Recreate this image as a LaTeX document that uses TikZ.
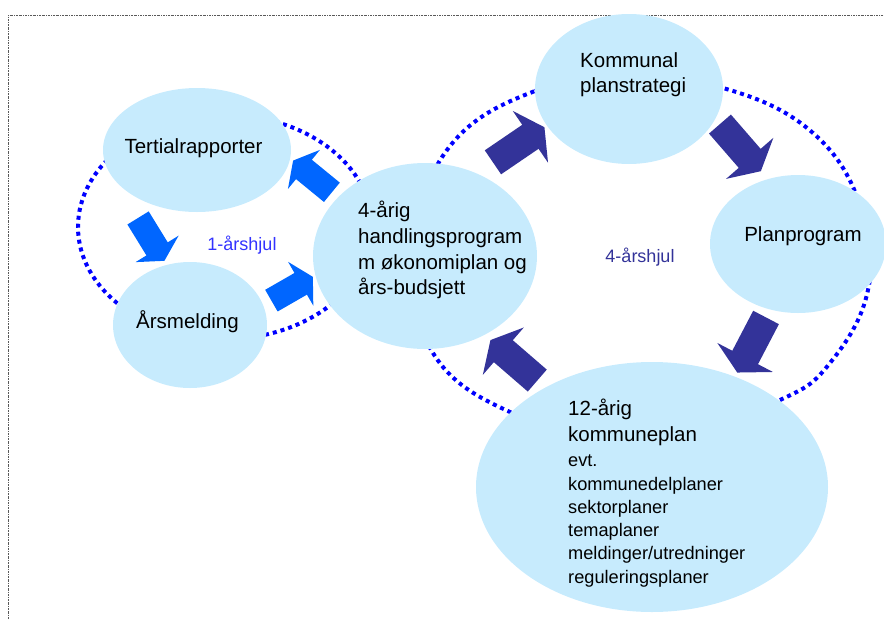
\documentclass[tikz,border=0pt]{standalone}
\usepackage{fontspec}
\setmainfont{Liberation Sans}
\usetikzlibrary{arrows.meta,shapes.geometric}
\definecolor{bubble}{HTML}{C7EBFD}
\definecolor{lightarrow}{HTML}{0066FF}
\definecolor{darkarrow}{HTML}{333399}
\definecolor{dotblue}{HTML}{0000FF}
\definecolor{hjultext}{HTML}{3333FF}
\begin{document}
\begin{tikzpicture}[x=1pt, y=-1pt,
    bub/.style={ellipse, fill=bubble, inner sep=0pt, outer sep=0pt},
    txt/.style={inner sep=0pt, align=left, font=\fontsize{20.5}{25.7}\selectfont},
    hjul/.style={draw=dotblue, line width=4pt, dash pattern=on 4pt off 4pt},
    hjultxt/.style={inner sep=0pt, anchor=base, font=\fontsize{18}{22}\selectfont},
    frame/.style={draw=black!65, line width=0.7pt, dash pattern=on 2pt off 1pt on 0.6pt off 1pt},
    lightarr/.style={draw=lightarrow, line width=25pt, -{Triangle[width=50pt, length=14pt]}},
    darkarr/.style={draw=darkarrow, line width=29pt, -{Triangle[width=62pt, length=17pt]}}
]
\useasboundingbox (0,0) rectangle (884,619);
\draw[frame] (8,619) -- (8,15) -- (884,15);

\draw[hjul] (225,227) ellipse [x radius=147, y radius=112];
\draw[hjul] plot[smooth cycle, tension=0.7] coordinates {(447,150) (535,91) (629,80)
    (723,88) (813,133) (862,210) (868,290) (830,363) (780,400)
    (690,428) (600,430) (510,412) (433,353) (414,255)};

\node[bub, minimum width=188pt, minimum height=124pt] (tert) at (197,150) {};
\node[bub, minimum width=154pt, minimum height=126pt] (ars) at (190,325) {};
\node[bub, minimum width=224pt, minimum height=186pt] (hand) at (425,256) {};
\node[bub, minimum width=188pt, minimum height=150pt] (komm) at (629,89) {};
\node[bub, minimum width=176pt, minimum height=138pt] (plan) at (798,244) {};
\node[bub, minimum width=352pt, minimum height=250pt] (kplan) at (652,487) {};

\draw[lightarr, shorten <=8pt, shorten >=3.8pt] (hand.146) -- (tert.-5);
\draw[lightarr, shorten <=44.6pt, shorten >=4.8pt] (tert.200) -- (ars.111);
\draw[lightarr, shorten <=9.5pt, shorten >=3pt] (ars.15) -- (hand.190);
\draw[darkarr, shorten <=19.8pt, shorten >=3pt] (hand.58) -- (komm.204);
\draw[darkarr, shorten <=7.1pt, shorten >=10.6pt] (komm.-19) -- (plan.115);
\draw[darkarr, shorten <=9pt, shorten >=4.8pt] (plan.247) -- (kplan.53);
\draw[darkarr, shorten <=10.7pt, shorten >=8pt] (kplan.137) -- (hand.-53);

\node[txt, anchor=base] (terttxt) at (193.5,153) {Tertialrapporter};
\node[txt, anchor=base] (arstxt) at (187.5,328) {Årsmelding};
\node[txt, anchor=base] (plantxt) at (803,241) {Planprogram};
\node[txt, anchor=north west, font=\fontsize{20.5}{25}\selectfont] (kommtxt) at (580,52) {Kommunal\\planstrategi};
\node[txt, anchor=north west] (handtxt) at (358,201) {4-årig\\handlingsprogram\\m økonomiplan og\\års-budsjett};
\node[txt, anchor=north west, font=\fontsize{18.2}{23.3}\selectfont] (kplantxt) at (568,399)
    {{\fontsize{20.5}{25}\selectfont 12-årig}\\[2.7pt]{\fontsize{20.5}{25}\selectfont kommuneplan}\\[1.7pt]evt.\\kommunedelplaner\\sektorplaner\\temaplaner\\meldinger/utredninger\\reguleringsplaner};

\node[hjultxt, text=hjultext] (ettar) at (242,250) {1-årshjul};
\node[hjultxt, text=darkarrow] (fireaar) at (640,262) {4-årshjul};
\end{tikzpicture}
\end{document}
